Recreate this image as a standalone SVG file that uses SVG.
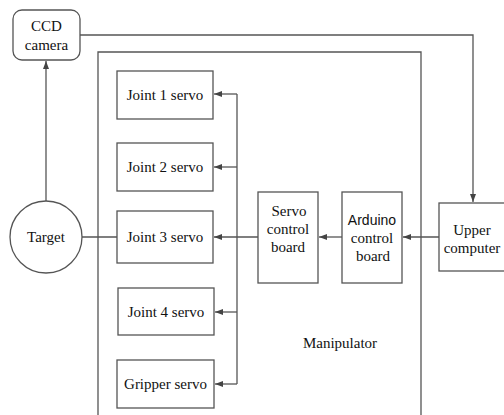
<svg xmlns="http://www.w3.org/2000/svg" width="504" height="415" viewBox="0 0 504 415">
<defs>
<marker id="ah" markerWidth="8" markerHeight="6" refX="8" refY="3" orient="auto" markerUnits="userSpaceOnUse">
<path d="M0,0 L8,3 L0,6 z" fill="#444"/>
</marker>
<style>
.box{fill:#fff;stroke:#555;stroke-width:1.3}
.ln{fill:none;stroke:#555;stroke-width:1.3}
.t{font-family:'Liberation Serif','Times New Roman','DejaVu Serif',serif;font-size:15px;fill:#111;text-anchor:middle}
.sans{font-family:'Liberation Sans',Arial,sans-serif;font-size:14px}
</style>
</defs>
<rect width="504" height="415" fill="#fff"/>
<g id="manipulator">
<path class="ln" d="M98,430 V52 H421 V430"/>
<text class="t" x="340" y="348">Manipulator</text>
</g>
<g id="connectors">
<path class="ln" d="M80,35 H473 V202" marker-end="url(#ah)"/>
<path class="ln" d="M46,201 V61" marker-end="url(#ah)"/>
<path class="ln" d="M82,237 H117"/>
<path class="ln" d="M439,237 H403" marker-end="url(#ah)"/>
<path class="ln" d="M342,237 H319" marker-end="url(#ah)"/>
<path class="ln" d="M258,237 H214" marker-end="url(#ah)"/>
<path class="ln" d="M237,94 V384"/>
<path class="ln" d="M237,94 H214" marker-end="url(#ah)"/>
<path class="ln" d="M237,167 H214" marker-end="url(#ah)"/>
<path class="ln" d="M237,312 H215" marker-end="url(#ah)"/>
<path class="ln" d="M237,384 H215" marker-end="url(#ah)"/>
</g>
<g id="ccd">
<rect class="box" x="13" y="10" width="67" height="50" rx="9"/>
<text class="t" x="46.5" y="31">CCD</text>
<text class="t" x="46.5" y="50">camera</text>
</g>
<g id="target">
<circle class="box" cx="46" cy="237" r="36"/>
<text class="t" x="46" y="242">Target</text>
</g>
<g id="joint1">
<rect class="box" x="117" y="71" width="96" height="48"/>
<text class="t" x="165" y="100">Joint 1 servo</text>
</g>
<g id="joint2">
<rect class="box" x="117" y="143" width="96" height="48"/>
<text class="t" x="165" y="172">Joint 2 servo</text>
</g>
<g id="joint3">
<rect class="box" x="117" y="211" width="96" height="52"/>
<text class="t" x="165" y="242">Joint 3 servo</text>
</g>
<g id="joint4">
<rect class="box" x="118" y="288" width="96" height="47"/>
<text class="t" x="166" y="317">Joint 4 servo</text>
</g>
<g id="gripper">
<rect class="box" x="117" y="360" width="97" height="48"/>
<text class="t" x="165.5" y="389">Gripper servo</text>
</g>
<g id="servo-board">
<rect class="box" x="258" y="192" width="60" height="91"/>
<text class="t" x="289" y="216">Servo</text>
<text class="t" x="288" y="234">control</text>
<text class="t" x="288" y="252">board</text>
</g>
<g id="arduino">
<rect class="box" x="342" y="192" width="60" height="91"/>
<text class="t sans" x="372" y="225">Arduino</text>
<text class="t" x="372" y="243">control</text>
<text class="t" x="373" y="261">board</text>
</g>
<g id="upper">
<rect class="box" x="439" y="203" width="70" height="68"/>
<text class="t" x="472" y="235">Upper</text>
<text class="t" x="472" y="253">computer</text>
</g>
</svg>
